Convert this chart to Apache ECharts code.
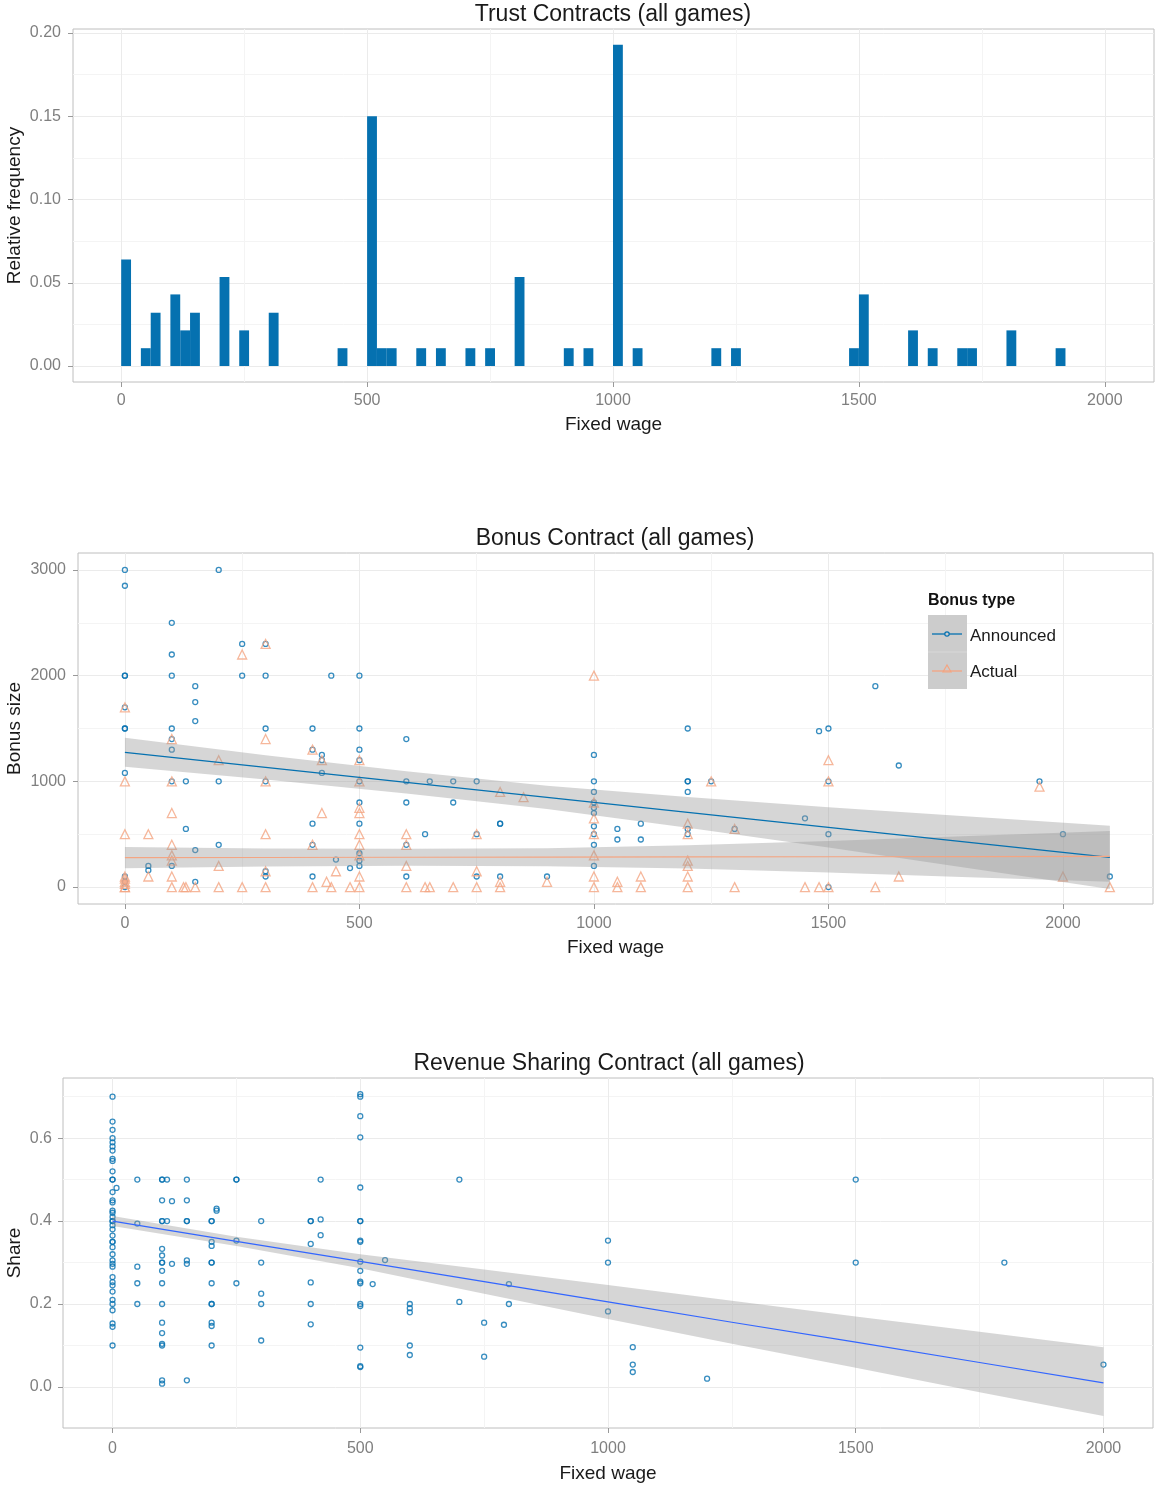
<!DOCTYPE html>
<html><head><meta charset="utf-8">
<script src="https://cdn.jsdelivr.net/npm/echarts@6/dist/echarts.min.js"></script>
<style>html,body{margin:0;padding:0;background:#fff}#c{width:1155px;height:1486px}</style>
</head><body><div id="c"></div>
<script>
// ---------- Panel 1: histogram (Trust Contracts) ----------
const histBinStart = [0,40,60,100,120,140,200,240,300,440,500,520,540,600,640,700,740,800,900,940,1000,1040,1200,1240,1480,1500,1600,1640,1700,1720,1800,1900];
const histFreq     = [0.064,0.0107,0.032,0.043,0.0214,0.032,0.0535,0.0214,0.032,0.0107,0.15,0.0107,0.0107,0.0107,0.0107,0.0107,0.0107,0.0535,0.0107,0.0107,0.193,0.0107,0.0107,0.0107,0.0107,0.043,0.0214,0.0107,0.0107,0.0107,0.0214,0.0107];
const histBinWidth = 20;
const histXTicks = [0,500,1000,1500,2000];
const histYTicks = [0,0.05,0.10,0.15,0.20];

// ---------- Panel 2: Bonus Contract ----------
const announcedPoints = [
[0,3000],[0,2850],[0,2000],[0,2000],[0,1700],[0,1500],[0,1500],[0,1080],[0,100],[0,50],[0,0],
[50,200],[50,160],
[100,2500],[100,2200],[100,2000],[100,1500],[100,1400],[100,1300],[100,1000],[100,200],
[130,1000],[130,550],
[150,1900],[150,1750],[150,1570],[150,350],[150,50],
[200,3000],[200,1000],[200,400],
[250,2300],[250,2000],
[300,2300],[300,2000],[300,1500],[300,1000],[300,150],[300,100],
[400,1500],[400,1300],[400,600],[400,400],[400,100],
[420,1250],[420,1200],[420,1080],
[440,2000],[450,260],[480,180],
[500,2000],[500,1500],[500,1300],[500,1200],[500,1000],[500,800],[500,600],[500,320],[500,250],[500,200],
[600,1400],[600,1000],[600,800],[600,400],[600,100],
[640,500],[650,1000],[700,1000],[700,800],[750,1000],[750,500],[750,100],
[800,600],[800,600],[800,100],[900,100],
[1000,1250],[1000,1000],[1000,900],[1000,800],[1000,750],[1000,700],[1000,575],[1000,500],[1000,400],[1000,200],
[1050,550],[1050,450],[1100,600],[1100,450],
[1200,1500],[1200,1000],[1200,1000],[1200,900],[1200,550],[1200,500],
[1250,1000],[1300,550],[1450,650],[1480,1475],
[1500,1500],[1500,1000],[1500,500],[1500,0],
[1600,1900],[1650,1150],[1950,1000],[2000,500],[2100,100]
];
const actualPoints = [
[0,1700],[0,1000],[0,500],[0,100],[0,80],[0,50],[0,30],[0,0],[0,0],
[50,500],[50,100],
[100,1400],[100,1000],[100,700],[100,400],[100,300],[100,250],[100,100],[100,0],
[125,0],[130,0],[150,0],
[200,1200],[200,200],[200,0],
[250,2200],[250,0],
[300,2300],[300,1400],[300,1000],[300,500],[300,150],[300,0],
[400,1300],[400,400],[400,0],
[420,1200],[420,700],[430,50],[440,0],[450,150],[480,0],
[500,1200],[500,1000],[500,750],[500,700],[500,500],[500,400],[500,300],[500,100],[500,0],
[600,500],[600,400],[600,200],[600,0],
[640,0],[650,0],[700,0],
[750,500],[750,150],[750,0],
[800,900],[800,50],[800,0],[850,850],[900,50],
[1000,2000],[1000,800],[1000,650],[1000,500],[1000,300],[1000,100],[1000,0],
[1050,50],[1050,0],[1100,100],[1100,0],
[1200,600],[1200,500],[1200,250],[1200,200],[1200,100],[1200,0],
[1250,1000],[1300,550],[1300,0],
[1450,0],[1480,0],[1500,1200],[1500,1000],[1500,0],
[1600,0],[1650,100],[1950,950],[2000,100],[2100,0]
];
// fitted lines and confidence bands
const bandX          = [0,300,600,900,1200,1500,1800,2100];
const announcedFit   = [1275,1133,991,849,707,565,423,281];
const announcedUpper = [1412,1248,1096,959,852,755,668,581];
const announcedLower = [1138,1018,886,739,562,375,178,-19];
const actualFit      = [278,280,282,283,285,287,288,290];
const actualUpper    = [378,365,362,368,395,437,483,530];
const actualLower    = [178,195,202,198,175,137,93,50];
const bonusXTicks = [0,500,1000,1500,2000];
const bonusYTicks = [0,1000,2000,3000];

// ---------- Panel 3: Revenue Sharing ----------
const sharePoints = [
[0,0.70],[0,0.64],[0,0.62],[0,0.60],[0,0.59],[0,0.58],[0,0.57],[0,0.55],[0,0.545],[0,0.52],
[0,0.50],[0,0.50],[0,0.47],[0,0.45],[0,0.445],[0,0.425],[0,0.42],[0,0.41],[0,0.40],[0,0.40],
[0,0.39],[0,0.38],[0,0.365],[0,0.35],[0,0.35],[0,0.337],[0,0.32],[0,0.305],[0,0.297],[0,0.29],
[0,0.265],[0,0.253],[0,0.245],[0,0.23],[0,0.21],[0,0.20],[0,0.185],[0,0.153],[0,0.145],[0,0.10],
[8,0.48],
[50,0.50],[50,0.394],[50,0.29],[50,0.25],[50,0.20],
[100,0.50],[100,0.50],[100,0.45],[100,0.40],[100,0.40],[100,0.333],[100,0.317],[100,0.30],[100,0.30],[100,0.28],
[100,0.25],[100,0.20],[100,0.155],[100,0.13],[100,0.104],[100,0.10],[100,0.016],[100,0.008],
[110,0.50],[110,0.40],[120,0.448],[120,0.297],
[150,0.50],[150,0.45],[150,0.40],[150,0.40],[150,0.305],[150,0.297],[150,0.016],
[200,0.40],[200,0.40],[200,0.35],[200,0.34],[200,0.30],[200,0.30],[200,0.25],[200,0.20],[200,0.20],[200,0.155],[200,0.147],[200,0.10],
[210,0.43],[210,0.425],
[250,0.50],[250,0.50],[250,0.353],[250,0.25],
[300,0.40],[300,0.30],[300,0.225],[300,0.20],[300,0.112],
[400,0.40],[400,0.40],[400,0.345],[400,0.252],[400,0.20],[400,0.151],
[420,0.50],[420,0.404],[420,0.366],
[500,0.706],[500,0.70],[500,0.653],[500,0.602],[500,0.481],[500,0.40],[500,0.40],[500,0.353],[500,0.35],[500,0.302],
[500,0.28],[500,0.254],[500,0.25],[500,0.20],[500,0.195],[500,0.095],[500,0.048],[500,0.05],
[525,0.248],[550,0.306],
[600,0.20],[600,0.19],[600,0.18],[600,0.10],[600,0.077],
[700,0.50],[700,0.205],[750,0.155],[750,0.073],[790,0.15],[800,0.248],[800,0.20],
[1000,0.353],[1000,0.30],[1000,0.182],[1050,0.096],[1050,0.054],[1050,0.036],
[1200,0.02],[1500,0.50],[1500,0.30],[1800,0.30],[2000,0.054]
];
const shareBandX = [0,250,500,750,1000,1250,1500,1750,2000];
const shareFit   = [0.400,0.351,0.303,0.254,0.205,0.156,0.108,0.059,0.010];
const shareUpper = [0.412,0.362,0.320,0.283,0.246,0.208,0.170,0.133,0.096];
const shareLower = [0.388,0.340,0.286,0.225,0.164,0.104,0.046,-0.013,-0.070];
const shareXTicks = [0,500,1000,1500,2000];
const shareYTicks = [0,0.2,0.4,0.6];

// ---------- styles ----------
const FONT = 'Liberation Sans, Arial, sans-serif';
const BLUE = '#0571B0', ORANGE = '#F4A582', SMOOTH = '#3366FF';
const BAND = 'rgba(153,153,153,0.4)';
const TICKLABEL = '#7f7f7f';
const NAMESTYLE = { fontFamily: FONT, fontSize: 19, color: '#1a1a1a' };

function xAxis(gi, min, max, ticks, margin, gap) {
  return {
    type: 'value', gridIndex: gi, min: min, max: max,
    name: 'Fixed wage', nameLocation: 'middle', nameGap: gap, nameTextStyle: NAMESTYLE, nameMoveOverlap: false,
    axisLine: { show: false, onZero: false },
    axisTick: { show: true, length: 5, customValues: ticks, lineStyle: { color: '#999999' } },
    axisLabel: { customValues: ticks, margin: margin, fontFamily: FONT, fontSize: 16, color: TICKLABEL,
      formatter: v => ticks.indexOf(v) >= 0 ? String(v) : '' },
    splitLine: { show: true, lineStyle: { color: '#ebebeb', width: 1 } },
    minorTick: { show: false, splitNumber: 2 },
    minorSplitLine: { show: true, lineStyle: { color: '#f4f4f4', width: 1 } }
  };
}
function yAxis(gi, min, max, ticks, name, gap, dec, margin, split) {
  return {
    type: 'value', gridIndex: gi, min: min, max: max, splitNumber: split,
    name: name, nameLocation: 'middle', nameGap: gap, nameTextStyle: NAMESTYLE, nameMoveOverlap: false,
    axisLine: { show: false, onZero: false },
    axisTick: { show: true, length: 5, customValues: ticks, lineStyle: { color: '#999999' } },
    axisLabel: { customValues: ticks, margin: margin, fontFamily: FONT, fontSize: 16, color: TICKLABEL,
      formatter: v => ticks.some(t => Math.abs(t - v) < 1e-9) ? v.toFixed(dec) : '' },
    splitLine: { show: true, lineStyle: { color: '#ebebeb', width: 1 } },
    minorTick: { show: false, splitNumber: 2 },
    minorSplitLine: { show: true, lineStyle: { color: '#f4f4f4', width: 1 } }
  };
}
function band(xs, lo, hi, xi, yi) {
  return {
    type: 'custom', xAxisIndex: xi, yAxisIndex: yi, z: 3, silent: true, data: [[xs[0], lo[0]]],
    renderItem: function (params, api) {
      const pts = [];
      for (let i = 0; i < xs.length; i++) pts.push(api.coord([xs[i], hi[i]]));
      for (let i = xs.length - 1; i >= 0; i--) pts.push(api.coord([xs[i], lo[i]]));
      return { type: 'polygon', shape: { points: pts }, style: { fill: BAND } };
    }
  };
}
function fitLine(xs, ys, xi, yi, color) {
  return {
    type: 'line', xAxisIndex: xi, yAxisIndex: yi, z: 4, silent: true, showSymbol: false, symbol: 'none',
    data: xs.map((x, i) => [x, ys[i]]), lineStyle: { color: color, width: 1.2 }
  };
}
const titleStyle = { fontFamily: FONT, fontSize: 23, fontWeight: 'normal', color: '#1a1a1a' };
const gridBase = { show: true, borderColor: '#bebebe', borderWidth: 1, backgroundColor: '#fff', containLabel: false, outerBoundsMode: 'none' };

const option = {
  backgroundColor: '#ffffff',
  animation: false,
  title: [
    { text: 'Trust Contracts (all games)', left: 613, top: 3, textAlign: 'center', padding: 0, textStyle: titleStyle },
    { text: 'Bonus Contract (all games)', left: 615, top: 527, textAlign: 'center', padding: 0, textStyle: titleStyle },
    { text: 'Revenue Sharing Contract (all games)', left: 609, top: 1052, textAlign: 'center', padding: 0, textStyle: titleStyle }
  ],
  grid: [
    Object.assign({ left: 73, top: 29, width: 1081, height: 353 }, gridBase),
    Object.assign({ left: 78, top: 553, width: 1075, height: 351 }, gridBase),
    Object.assign({ left: 63, top: 1078, width: 1090, height: 350 }, gridBase)
  ],
  xAxis: [
    xAxis(0, -98, 2100, histXTicks, 11, 33),
    xAxis(1, -100, 2192, bonusXTicks, 12, 34),
    xAxis(2, -100, 2100, shareXTicks, 13, 36)
  ],
  yAxis: [
    yAxis(0, -0.0096, 0.2024, histYTicks, 'Relative frequency', 49, 2, 12, 5),
    yAxis(1, -160, 3160, bonusYTicks, 'Bonus size', 54, 0, 12, 3),
    yAxis(2, -0.099, 0.745, shareYTicks, 'Share', 39, 1, 11, 4)
  ],
  graphic: [
    { type: 'text', z: 100, left: 928, top: 593, style: { text: 'Bonus type', font: 'bold 16px ' + FONT, fill: '#111' } },
    { type: 'rect', z: 100, shape: { x: 928, y: 615, width: 39, height: 37 }, style: { fill: '#cccccc' } },
    { type: 'rect', z: 100, shape: { x: 928, y: 652, width: 39, height: 37 }, style: { fill: '#cccccc' } },
    { type: 'line', z: 101, shape: { x1: 928, y1: 652, x2: 967, y2: 652 }, style: { stroke: '#d8d8d8', lineWidth: 1 } },
    { type: 'line', z: 101, shape: { x1: 932, y1: 634, x2: 962, y2: 634 }, style: { stroke: BLUE, lineWidth: 1.3 } },
    { type: 'circle', z: 102, shape: { cx: 947, cy: 634, r: 2.2 }, style: { fill: '#cccccc', stroke: BLUE, lineWidth: 1.2 } },
    { type: 'line', z: 101, shape: { x1: 932, y1: 671, x2: 962, y2: 671 }, style: { stroke: ORANGE, lineWidth: 1.3 } },
    { type: 'polygon', z: 102, shape: { points: [[947, 665], [951, 672], [943, 672]] }, style: { fill: 'none', stroke: ORANGE, lineWidth: 1.2 } },
    { type: 'text', z: 100, left: 970, top: 628, style: { text: 'Announced', font: '17px ' + FONT, fill: '#1a1a1a' } },
    { type: 'text', z: 100, left: 970, top: 664, style: { text: 'Actual', font: '17px ' + FONT, fill: '#1a1a1a' } }
  ],
  series: [
    {
      type: 'custom', xAxisIndex: 0, yAxisIndex: 0, z: 2,
      data: histBinStart.map((s, i) => [s, s + histBinWidth, histFreq[i]]),
      encode: { x: [0, 1], y: 2 },
      renderItem: function (params, api) {
        const p0 = api.coord([api.value(0), api.value(2)]);
        const p1 = api.coord([api.value(1), 0]);
        return { type: 'rect', shape: { x: p0[0], y: p0[1], width: p1[0] - p0[0], height: p1[1] - p0[1] }, style: { fill: BLUE } };
      }
    },
    {
      name: 'Announced', type: 'scatter', xAxisIndex: 1, yAxisIndex: 1, z: 2, symbol: 'circle', symbolSize: 5,
      data: announcedPoints, itemStyle: { color: 'rgba(0,0,0,0)', borderColor: BLUE, borderWidth: 1.3 }
    },
    {
      name: 'Actual', type: 'scatter', xAxisIndex: 1, yAxisIndex: 1, z: 2, symbol: 'triangle', symbolSize: 9,
      data: actualPoints, itemStyle: { color: 'rgba(0,0,0,0)', borderColor: ORANGE, borderWidth: 1.3 }
    },
    band(bandX, announcedLower, announcedUpper, 1, 1),
    band(bandX, actualLower, actualUpper, 1, 1),
    fitLine(bandX, announcedFit, 1, 1, BLUE),
    fitLine(bandX, actualFit, 1, 1, ORANGE),
    {
      type: 'scatter', xAxisIndex: 2, yAxisIndex: 2, z: 2, symbol: 'circle', symbolSize: 5,
      data: sharePoints, itemStyle: { color: 'rgba(0,0,0,0)', borderColor: BLUE, borderWidth: 1.3 }
    },
    band(shareBandX, shareLower, shareUpper, 2, 2),
    fitLine(shareBandX, shareFit, 2, 2, SMOOTH)
  ]
};
const chart = echarts.init(document.getElementById('c'), null, { renderer: 'canvas' });
chart.setOption(option);
</script>
</body></html>
